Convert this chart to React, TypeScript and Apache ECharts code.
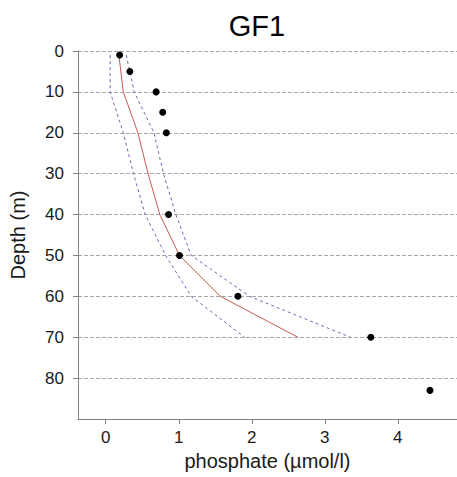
import React, { useEffect, useRef } from "react";
import * as echarts from "echarts";

const obsDepth = [1, 5, 10, 15, 20, 40, 50, 60, 70, 83];
const obsPhosphate = [0.19, 0.33, 0.69, 0.78, 0.83, 0.86, 1.01, 1.81, 3.63, 4.44];

const modelDepth = [1, 10, 20, 30, 40, 50, 60, 70];
const modelMean = [0.18, 0.24, 0.44, 0.58, 0.74, 1.01, 1.57, 2.63];
const modelLower = [0.06, 0.06, 0.24, 0.38, 0.54, 0.82, 1.17, 1.9];
const modelUpper = [0.28, 0.39, 0.66, 0.79, 0.96, 1.17, 1.97, 3.35];

const xTicks = [0, 1, 2, 3, 4];
const yTicks = [0, 10, 20, 30, 40, 50, 60, 70, 80];

const FONT = "'Liberation Sans', Arial, sans-serif";

export default function App() {
  const ref = useRef<HTMLDivElement>(null);
  useEffect(() => {
    if (!ref.current) return;
    const chart = echarts.init(ref.current, undefined, { renderer: "svg" });
    const pairs = (xs: number[], ys: number[]) => xs.map((x, i) => [x, ys[i]]);
    chart.setOption({
      animation: false,
      backgroundColor: "#ffffff",
      textStyle: { fontFamily: FONT },
      grid: { left: 77, top: 51, right: 0, bottom: 58, containLabel: false },
      graphic: [
        {
          type: "text",
          x: 257,
          y: 26,
          style: {
            text: "GF1",
            fontSize: 29,
            fontFamily: FONT,
            fill: "#000",
            textAlign: "center",
            textVerticalAlign: "middle",
          },
        },
      ],
      xAxis: {
        type: "value",
        min: -0.38,
        max: 4.81,
        name: "phosphate (µmol/l)",
        nameLocation: "middle",
        nameGap: 27,
        nameTextStyle: { fontSize: 20, color: "#1a1a1a", fontFamily: FONT },
        axisLine: { show: true, onZero: false, lineStyle: { color: "#808080", width: 1 } },
        axisTick: { show: true, length: 5, customValues: xTicks, lineStyle: { color: "#808080" } },
        axisLabel: { customValues: xTicks, fontSize: 17, color: "#1a1a1a", margin: 10, fontFamily: FONT },
        splitLine: { show: false },
      },
      yAxis: {
        type: "value",
        inverse: true,
        min: 0,
        max: 90,
        interval: 10,
        name: "Depth (m)",
        nameLocation: "middle",
        nameGap: 50,
        nameRotate: 90,
        nameTextStyle: { fontSize: 20, color: "#1a1a1a", fontFamily: FONT },
        axisLine: { show: true, onZero: false, lineStyle: { color: "#808080", width: 1 } },
        axisTick: { show: true, length: 5, customValues: yTicks, lineStyle: { color: "#808080" } },
        axisLabel: { customValues: yTicks, fontSize: 17, color: "#1a1a1a", margin: 14, fontFamily: FONT },
        splitLine: { show: true, lineStyle: { color: "#a8a8a8", type: [4, 2], width: 1 } },
      },
      series: [
        {
          name: "lower",
          type: "line",
          data: pairs(modelLower, modelDepth),
          showSymbol: false,
          symbol: "none",
          lineStyle: { color: "#6070b0", width: 1, type: [3, 3] },
          z: 2,
        },
        {
          name: "upper",
          type: "line",
          data: pairs(modelUpper, modelDepth),
          showSymbol: false,
          symbol: "none",
          lineStyle: { color: "#6070b0", width: 1, type: [3, 3] },
          z: 2,
        },
        {
          name: "model",
          type: "line",
          data: pairs(modelMean, modelDepth),
          showSymbol: false,
          symbol: "none",
          lineStyle: { color: "#c85a50", width: 1 },
          z: 3,
        },
        {
          name: "observed",
          type: "scatter",
          data: pairs(obsPhosphate, obsDepth),
          symbol: "circle",
          symbolSize: 7,
          itemStyle: { color: "#000", opacity: 1 },
          z: 4,
        },
      ],
    });
    return () => chart.dispose();
  }, []);
  return <div ref={ref} style={{ width: 457, height: 477, position: "absolute", left: 0, top: 0 }} />;
}
